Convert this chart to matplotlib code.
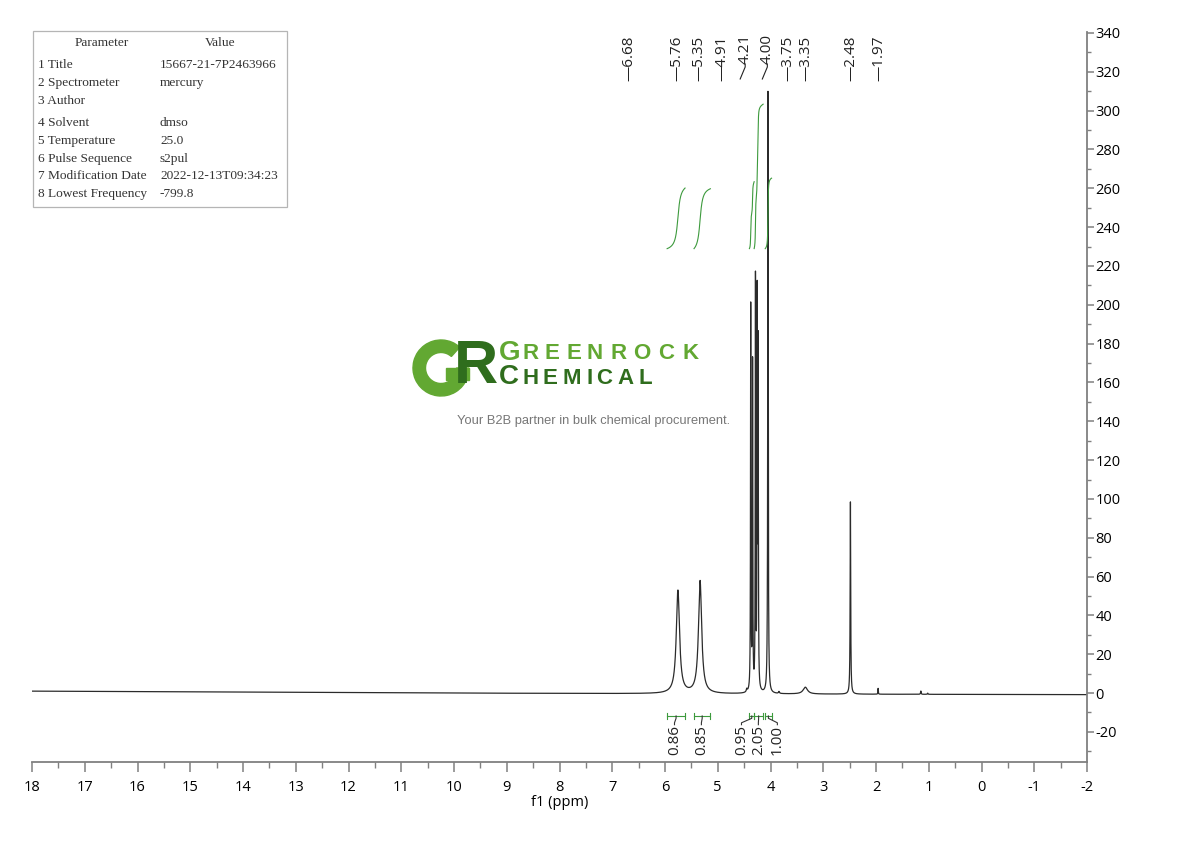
import numpy as np
import matplotlib.pyplot as plt
from matplotlib.patches import Wedge, Rectangle
from matplotlib.transforms import blended_transform_factory, IdentityTransform

plt.rcParams['font.family'] = ['Open Sans', 'DejaVu Sans']
plt.rcParams['axes.unicode_minus'] = False

# --- peak list: position (ppm), height, half width (ppm)
peak_ppm = [5.755, 5.335, 4.375, 4.340, 4.285, 4.252, 4.234, 4.048, 4.450, 3.840,
            3.340, 2.485, 1.960, 1.150, 1.020]
peak_height = [53, 58, 198, 168, 211, 198, 173, 310, 1.5, 1.0,
               3.5, 99, 3.0, 1.7, 0.6]
peak_hw = [0.037, 0.036, 0.0045, 0.0045, 0.0045, 0.0045, 0.0045, 0.0055, 0.01, 0.01,
           0.05, 0.006, 0.004, 0.006, 0.006]

# slight baseline drift
base_ppm = [18, 10, 4, -2]
base_val = [1.0, 0.0, -0.5, -0.8]

# peak labels on top
shift_labels = ['6.68', '5.76', '5.35', '4.91', '4.21', '4.00', '3.75', '3.35', '2.48', '1.97']
shift_label_pos = [6.68, 5.77, 5.35, 4.93, 4.48, 4.06, 3.68, 3.32, 2.48, 1.95]
slanted = ['4.21', '4.00']

# integrals
integral_values = [0.86, 0.85, 0.95, 2.05, 1.00]
integral_from = [5.96, 5.45, 4.40, 4.31, 4.10]
integral_to = [5.62, 5.14, 4.31, 4.14, 3.98]
integral_label_pos = [5.82, 5.31, 4.55, 4.23, 3.87]

# parameter table
param_names = ['1 Title', '2 Spectrometer', '3 Author', '4 Solvent', '5 Temperature',
               '6 Pulse Sequence', '7 Modification Date', '8 Lowest Frequency']
param_values = ['15667-21-7P2463966', 'mercury', '', 'dmso', '25.0',
                's2pul', '2022-12-13T09:34:23', '-799.8']
param_rows_y = [65, 83, 101, 123, 141, 159, 176, 194]

# ==========================================================
ppm = np.linspace(18, -2, 60001)
baseline = np.interp(ppm, base_ppm[::-1], base_val[::-1])
spec = baseline.copy()
for p, h, w in zip(peak_ppm, peak_height, peak_hw):
    spec += h * w**2 / (w**2 + (ppm - p)**2)

W, H = 1190, 841
fig = plt.figure(figsize=(W / 100, H / 100), dpi=100)
ax = fig.add_axes([32 / W, 79 / H, (1087 - 32) / W, 730 / H])

ax.plot(ppm, spec, color='#2b2b2b', lw=0.9)
ax.set_xlim(18, -2)
ax.set_ylim(-35.5, 340.5)

spine_c = '#808080'
for s in ['top', 'left']:
    ax.spines[s].set_visible(False)
for s in ['right', 'bottom']:
    ax.spines[s].set_color(spine_c)
    ax.spines[s].set_linewidth(1.3)
ax.yaxis.tick_right()
ax.set_xticks(np.arange(18, -3, -1))
ax.set_xticklabels([str(v) for v in range(18, -3, -1)])
ax.set_xticks(np.arange(17.5, -2, -0.5), minor=True)
ax.set_yticks(np.arange(-20, 341, 20))
ax.set_yticks(np.arange(-30, 341, 10), minor=True)
ax.tick_params(axis='x', which='major', length=7, width=1.1, color=spine_c, labelsize=10.5, pad=6)
ax.tick_params(axis='x', which='minor', length=4, width=1.0, color=spine_c)
ax.tick_params(axis='y', which='major', length=5, width=1.1, color=spine_c, labelsize=10.5, pad=1)
ax.tick_params(axis='y', which='minor', length=3, width=1.0, color=spine_c)
ax.set_xlabel('f1 (ppm)', fontsize=10.5, labelpad=0)

# peak labels
tr = blended_transform_factory(ax.transData, ax.transAxes)
def yfrac(ypx):
    return (762 - ypx) / 730.0
px_per_ppm = 52.65
for lab, pos in zip(shift_labels, shift_label_pos):
    if lab in slanted:
        ax.text(pos, yfrac(64), lab, rotation=90, ha='center', va='bottom',
                fontsize=11, color='#222222', transform=tr)
        ax.plot([pos, pos, pos + 5 / px_per_ppm], [yfrac(64), yfrac(67), yfrac(79)],
                color='#222222', lw=0.8, transform=tr, clip_on=False)
    else:
        ax.text(pos, yfrac(81), '\u2014' + lab, rotation=90, ha='center', va='bottom',
                fontsize=11, color='#222222', transform=tr)

# integrals
green = '#3d9a3d'
ybase = (693 - 248) / 1.944
yunit = 36.3
ybr = -11.8
cap = 1.6
for val, a, b, lp in zip(integral_values, integral_from, integral_to, integral_label_pos):
    m = (ppm <= a) & (ppm >= b)
    c = np.cumsum(spec[m] - baseline[m])
    c = c / c[-1]
    ax.plot(ppm[m], ybase + c * val * yunit, color=green, lw=0.8)
    ax.plot([a, b], [ybr, ybr], color=green, lw=0.8)
    ax.plot([a, a], [ybr - cap, ybr + cap], color=green, lw=0.8)
    ax.plot([b, b], [ybr - cap, ybr + cap], color=green, lw=0.8)
    mid = (a + b) / 2
    ax.plot([mid, mid, lp, lp], [ybr, ybr - 1.2, ybr - 3.5, ybr - 4.5], color='#333333', lw=0.8)
    ax.text(lp, ybr - 4.5, '%.2f' % val, rotation=90, ha='center', va='top',
            fontsize=11, color='#222222')

# parameter table
def fx(px):
    return px / W
def fy(py):
    return 1 - py / H
tab = plt.Rectangle((fx(33), fy(207)), fx(287) - fx(33), fy(31) - fy(207),
                    transform=fig.transFigure, fill=False, ec='#b5b5b5', lw=0.9)
fig.patches.append(tab)
serif = ['Liberation Serif', 'DejaVu Serif']
tc = '#333333'
fig.text(fx(102), fy(43), 'Parameter', ha='center', va='center', fontsize=9.6, family=serif, color=tc)
fig.text(fx(220), fy(43), 'Value', ha='center', va='center', fontsize=9.6, family=serif, color=tc)
for name, val, yy in zip(param_names, param_values, param_rows_y):
    fig.text(fx(38), fy(yy), name, ha='left', va='center', fontsize=9.6, family=serif, color=tc)
    fig.text(fx(160), fy(yy), val, ha='left', va='center', fontsize=9.6, family=serif, color=tc)

# watermark logo
light_g = '#62a832'
dark_g = '#2f6d1d'
pix = IdentityTransform()
fig.patches.append(Wedge((441, H - 368), 28, 48, 360, width=12.5, color=light_g, transform=pix))
fig.patches.append(Rectangle((446, H - 380), 23, 12, color=light_g, transform=pix))
lf = ['Liberation Sans']
fig.text(fx(454), fy(367), 'R', ha='left', va='center', fontsize=44, fontweight='bold',
         color=dark_g, family=lf)
fig.text(fx(499), fy(353), 'G', ha='left', va='center', fontsize=20, fontweight='bold',
         color=light_g, family=lf)
adv_top = [23, 21, 21, 23, 23, 25, 24, 24]
x0 = 522
for ch, adv in zip('REENROCK', adv_top):
    fig.text(fx(x0), fy(354), ch, ha='left', va='center', fontsize=16,
             fontweight='bold', color=light_g, family=lf)
    x0 += adv
fig.text(fx(499), fy(377), 'C', ha='left', va='center', fontsize=20, fontweight='bold',
         color=dark_g, family=lf)
adv_bot = [21, 20, 24, 9, 21, 22, 19]
x0 = 522
for ch, adv in zip('HEMICAL', adv_bot):
    fig.text(fx(x0), fy(378), ch, ha='left', va='center', fontsize=16,
             fontweight='bold', color=dark_g, family=lf)
    x0 += adv
fig.text(fx(594), fy(421), 'Your B2B partner in bulk chemical procurement.', ha='center',
         va='center', fontsize=9.3, color='#777777', family=lf)

fig.savefig('out.png', dpi=100)
